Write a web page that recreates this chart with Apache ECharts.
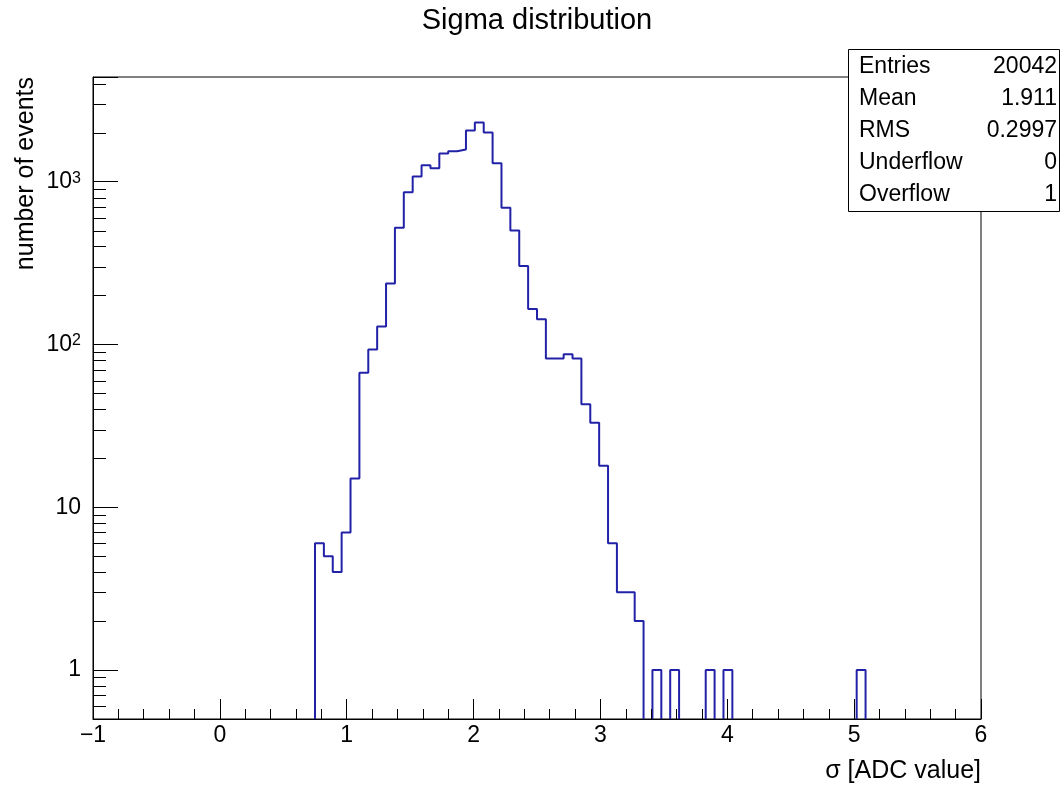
<!DOCTYPE html>
<html>
<head>
<meta charset="utf-8">
<script src="https://cdn.jsdelivr.net/npm/echarts@6/dist/echarts.min.js"></script>
<style>
html,body{margin:0;padding:0;background:#fff;}
#chart{width:1060px;height:787px;}
</style>
</head>
<body>
<div id="chart"></div>
<script>
// ---- data ----
const chartTitle = 'Sigma distribution';
const xAxisTitle = 'σ [ADC value]';
const yAxisTitle = 'number of events';
const binMin = -1;
const binWidth = 0.07;
// 100 bins from -1 to 6 (bin i covers [binMin + i*binWidth, binMin + (i+1)*binWidth])
const counts = [
  0,0,0,0,0,0,0,0,0,0,
  0,0,0,0,0,0,0,0,0,0,
  0,0,0,0,0,6,5,4,7,15,
  67,93,129,237,521,863,1077,1264,1212,1489,
  1541,1577,2065,2313,2005,1301,691,501,304,165,
  143,82,82,87,82,43,33,18,6,3,
  3,2,0,1,0,1,0,0,0,1,
  0,1,0,0,0,0,0,0,0,0,
  0,0,0,0,0,0,1,0,0,0,
  0,0,0,0,0,0,0,0,0,0
];
const xMin = -1, xMax = 6, xInterval = 1;
const yMin = 0.5, yMax = 4400;
const yTickValues = [1, 10, 100, 1000];
const yTickLabels = ['1', '10', '10^2', '10^3'];
const yMinorTicks = [0.6,0.7,0.8,0.9, 2,3,4,5,6,7,8,9, 20,30,40,50,60,70,80,90,
                     200,300,400,500,600,700,800,900, 2000,3000,4000];
const statNames = ['Entries', 'Mean', 'RMS', 'Underflow', 'Overflow'];
const statValues = ['20042', '1.911', '0.2997', '0', '1'];

// ---- build ----
const FONT = '"Liberation Sans", Arial, Helvetica, sans-serif';
const LINE_COLOR = '#2222a8';
const emptyLevel = yMin / 2; // empty bins fall below the frame (clipped), as in ROOT
const stepData = counts.map((c, i) => [binMin + i * binWidth, c > 0 ? c : emptyLevel]);
stepData.push([binMin + counts.length * binWidth, counts[counts.length - 1] > 0 ? counts[counts.length - 1] : emptyLevel]);

function yLabel(v) {
  for (let i = 0; i < yTickValues.length; i++) {
    if (Math.abs(v - yTickValues[i]) / yTickValues[i] < 1e-6) {
      const parts = yTickLabels[i].split('^');
      return parts.length > 1 ? '{b|' + parts[0] + '}{s|' + parts[1] + '}' : '{b|' + parts[0] + '}';
    }
  }
  return '';
}

const statGraphics = [{
  type: 'rect', z: 100,
  shape: { x: 848.5, y: 49.5, width: 211, height: 162 },
  style: { fill: '#fff', stroke: '#000', lineWidth: 1 }
}];
statNames.forEach((n, i) => {
  const y = 67 + i * 32;
  statGraphics.push({ type: 'text', z: 101, x: 859, y: y,
    style: { text: n, font: '23px ' + FONT, fill: '#000', align: 'left', verticalAlign: 'middle' } });
  statGraphics.push({ type: 'text', z: 101, x: 1057, y: y,
    style: { text: statValues[i], font: '23px ' + FONT, fill: '#000', align: 'right', verticalAlign: 'middle' } });
});

const chart = echarts.init(document.getElementById('chart'), null, { renderer: 'canvas' });
chart.setOption({
  animation: false,
  backgroundColor: '#fff',
  grid: { left: 93, right: 79, top: 77, bottom: 68, show: true, borderColor: '#000', borderWidth: 1, backgroundColor: 'transparent' },
  xAxis: {
    type: 'value', min: xMin, max: xMax, interval: xInterval, z: 5,
    name: xAxisTitle, nameLocation: 'end', nameGap: 0,
    nameTextStyle: { fontFamily: FONT, fontSize: 25, color: '#000', align: 'right', verticalAlign: 'top', padding: [40, 0, 0, 0] },
    axisLine: { show: true, onZero: false, lineStyle: { color: '#000', width: 1 } },
    axisTick: { show: true, inside: true, length: 20, lineStyle: { color: '#000', width: 1 } },
    minorTick: { show: true, splitNumber: 5, length: 10, lineStyle: { color: '#000', width: 1 } },
    splitLine: { show: false },
    axisLabel: { margin: 5, fontFamily: FONT, fontSize: 23, color: '#000',
      formatter: v => String(v).replace('-', '\u2212') }
  },
  yAxis: {
    type: 'log', logBase: 10, min: yMin, max: yMax, z: 5,
    axisLine: { show: true, onZero: false, lineStyle: { color: '#000', width: 1 } },
    axisTick: { show: true, inside: true, length: 25, lineStyle: { color: '#000', width: 1 } },
    splitLine: { show: false },
    axisLabel: {
      margin: 12, color: '#000', formatter: yLabel,
      rich: {
        b: { fontFamily: FONT, fontSize: 23, color: '#000', lineHeight: 23, verticalAlign: 'bottom' },
        s: { fontFamily: FONT, fontSize: 16, color: '#000', lineHeight: 16, verticalAlign: 'top', padding: [0, 0, 10, 0] }
      }
    }
  },
  series: [
    {
      type: 'line', step: 'end', data: stepData, symbol: 'none', showSymbol: false, clip: true, z: 2,
      lineStyle: { color: LINE_COLOR, width: 2 }
    },
    {
      type: 'custom', z: 3, silent: true,
      data: yMinorTicks.map(v => [xMin, v]),
      renderItem: (params, api) => {
        const p = api.coord([api.value(0), api.value(1)]);
        return { type: 'line', shape: { x1: p[0], y1: Math.round(p[1]) + 0.5, x2: p[0] + 13, y2: Math.round(p[1]) + 0.5 },
                 style: { stroke: '#000', lineWidth: 1 } };
      }
    }
  ],
  graphic: [
    { type: 'text', x: 537, y: 21, z: 100,
      style: { text: chartTitle, font: '29px ' + FONT, fill: '#000', align: 'center', verticalAlign: 'middle' } },
    { type: 'text', x: 26, y: 77, rotation: Math.PI / 2, z: 100,
      style: { text: yAxisTitle, font: '25px ' + FONT, fill: '#000', align: 'right', verticalAlign: 'middle' } }
  ].concat(statGraphics)
});
</script>
</body>
</html>
